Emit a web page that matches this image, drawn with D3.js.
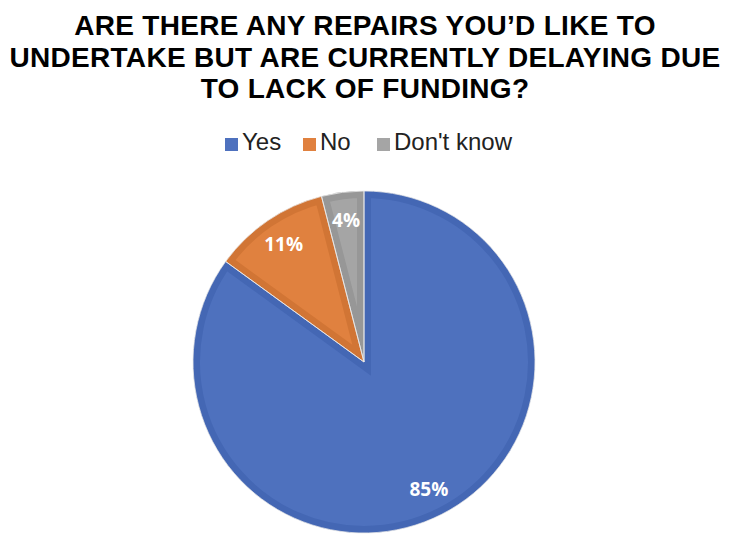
<!DOCTYPE html>
<html>
<head>
<meta charset="utf-8">
<script src="https://cdn.jsdelivr.net/npm/d3@7"></script>
<style>
  body { margin: 0; background: #fff; }
  svg { display: block; }
</style>
</head>
<body>
<div id="chart"></div>
<script>
// chart data
var categories = ["Yes", "No", "Don't know"];
var values = [85, 11, 4];
var labels = ["85%", "11%", "4%"];
var titleLines = ["ARE THERE ANY REPAIRS YOU\u2019D LIKE TO",
                  "UNDERTAKE BUT ARE CURRENTLY DELAYING DUE",
                  "TO LACK OF FUNDING?"];

var w = 730, h = 548;
var cx = 364, cy = 362, r = 171; // pie centre and radius
var legendX = [225, 303, 377];   // legend entry positions

var fills = d3.scaleOrdinal().domain(categories).range(["#4e71be", "#e0813f", "#a5a5a5"]);
var borders = d3.scaleOrdinal().domain(categories).range(["#4467b4", "#d17535", "#979797"]);

var svg = d3.select("#chart").append("svg")
    .attr("width", w)
    .attr("height", h);

// title
svg.append("text")
    .attr("x", 365)
    .attr("text-anchor", "middle")
    .attr("font-family", "Liberation Sans, Arial, sans-serif")
    .attr("font-weight", "bold")
    .attr("font-size", 28)
    .attr("letter-spacing", 0.3)
    .attr("fill", "#000")
    .selectAll("tspan")
    .data(titleLines)
    .enter().append("tspan")
    .attr("x", 365)
    .attr("y", function(d, i) { return 35 + i * 31.5; })
    .text(function(d) { return d; });

// legend
var legend = svg.append("g").attr("transform", "translate(0,150)");
var items = legend.selectAll("g")
    .data(categories)
    .enter().append("g")
    .attr("transform", function(d, i) { return "translate(" + legendX[i] + ",0)"; });
items.append("rect")
    .attr("x", 0).attr("y", -12)
    .attr("width", 13).attr("height", 13)
    .attr("fill", function(d) { return fills(d); });
items.append("text")
    .attr("x", 17).attr("y", 0)
    .attr("font-family", "Liberation Sans, Arial, sans-serif")
    .attr("font-size", 24)
    .attr("fill", "#222")
    .text(function(d) { return d; });

// pie
var pie = d3.pie().sort(null).value(function(d) { return d.value; });
var data = categories.map(function(c, i) { return { name: c, value: values[i], label: labels[i] }; });
var arcs = pie(data);
var arc = d3.arc().innerRadius(0).outerRadius(r);
var labelArc = d3.arc().innerRadius(143).outerRadius(143);

var pg = svg.append("g").attr("transform", "translate(" + cx + "," + cy + ")");
var defs = svg.append("defs");

arcs.forEach(function(a, i) {
    defs.append("clipPath").attr("id", "clip" + i)
        .append("path").attr("d", arc(a));
});

// slices: fill + inner border (stroke clipped to slice)
pg.selectAll("path.slice")
    .data(arcs)
    .enter().append("path")
    .attr("class", "slice")
    .attr("d", arc)
    .attr("fill", function(d) { return fills(d.data.name); })
    .attr("stroke", function(d) { return borders(d.data.name); })
    .attr("stroke-width", 14)
    .attr("stroke-linejoin", "miter")
    .attr("clip-path", function(d, i) { return "url(#clip" + i + ")"; });

// thin light separators between slices
pg.selectAll("path.sep")
    .data(arcs)
    .enter().append("path")
    .attr("class", "sep")
    .attr("d", arc)
    .attr("fill", "none")
    .attr("stroke", "#e8e8e8")
    .attr("stroke-width", 0.8);

// data labels
pg.selectAll("text.lbl")
    .data(arcs)
    .enter().append("text")
    .attr("class", "lbl")
    .attr("transform", function(d) { return "translate(" + labelArc.centroid(d) + ")"; })
    .attr("dy", "0.36em")
    .attr("text-anchor", "middle")
    .attr("font-family", "Open Sans, sans-serif")
    .attr("font-weight", "bold")
    .attr("font-size", 19)
    .attr("fill", "#fff")
    .text(function(d) { return d.data.label; });
</script>
</body>
</html>
